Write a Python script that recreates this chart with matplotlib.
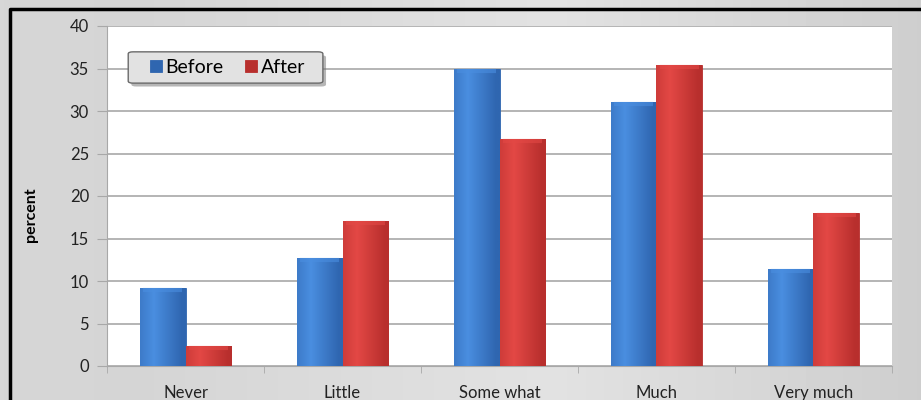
import numpy as np
import matplotlib
matplotlib.use("Agg")
import matplotlib.pyplot as plt
from matplotlib.lines import Line2D
from matplotlib.patches import FancyBboxPatch
from matplotlib.colors import LinearSegmentedColormap

plt.rcParams['font.family'] = ['Lato', 'DejaVu Sans']

# survey answers, percent of respondents
categories = ['Never', 'Little', 'Some what', 'Much', 'Very much']
before = [9.2, 12.7, 35.0, 31.1, 11.4]
after = [2.4, 17.1, 26.7, 35.4, 18.0]

fig = plt.figure(figsize=(9.21, 4.0), dpi=100)

# grey gradient behind everything, one value per pixel column
gx = np.linspace(0, 1, 921)
shade = 0.84 + 0.07 * np.clip(1 - np.abs(gx - 0.6) / 0.45, 0, 1) - 0.04 * gx
fig.figimage(np.tile(shade, (400, 1)), cmap='gray', vmin=0, vmax=1,
             xo=0, yo=0, zorder=-10)
# right margin strip again, above the plot, below the frame line
fig.figimage(np.tile(shade[895:], (389, 1)), cmap='gray', vmin=0, vmax=1,
             xo=895, yo=0, zorder=50)

# dark frame on the left and top edges, one polyline
fig.add_artist(Line2D([0.011, 0.011, 1.0], [0.0, 0.978, 0.978],
                      color='black', lw=2.5, zorder=60))

ax = fig.add_axes([0.1162, 0.085, 0.8523, 0.85])
ax.set_facecolor('white')

x = np.arange(len(categories))
w = 0.29


def shaded_bars(xs, vals, dark, light):
    bars = ax.bar(xs, vals, w, color=dark, edgecolor=dark, lw=0.6, zorder=3)
    # left-to-right shading on every bar
    g = np.linspace(0, 1, 64)
    prof = np.clip(1 - np.abs(g - 0.3) * 1.6, 0, 1)
    cm = LinearSegmentedColormap.from_list('s', [dark, light])
    for b in bars:
        x0, y0 = b.get_x(), b.get_y()
        im = ax.imshow(prof[None, :], cmap=cm, vmin=0, vmax=1, aspect='auto',
                       extent=[x0, x0 + b.get_width(), y0, y0 + b.get_height()],
                       zorder=4)
        im.set_clip_path(b)
        # lighter cap at the top
        ax.plot([x0 + 0.02, x0 + b.get_width() - 0.02],
                [y0 + b.get_height() - 0.25] * 2, color=light, lw=3,
                alpha=0.6, zorder=5, solid_capstyle='butt')
    return bars


hb = shaded_bars(x - w / 2, before, '#2f66b0', '#4a8ee0')
ha = shaded_bars(x + w / 2, after, '#b82f2d', '#e34845')

ax.set_xlim(-0.5, len(categories) - 0.5)
ax.set_ylim(0, 40)
ax.set_yticks(range(0, 41, 5))
ax.yaxis.grid(True, color='#a8a8a8', lw=1.2, zorder=0)
ax.set_axisbelow(True)

ax.set_xticks(x)
ax.set_xticklabels(categories, fontsize=12, color='#222222')
ax.tick_params(axis='x', which='major', length=0, pad=14)
ax.set_xticks(np.arange(-0.5, len(categories), 1.0), minor=True)
ax.tick_params(axis='x', which='minor', length=5, color='#a8a8a8')
ax.tick_params(axis='y', labelsize=12, length=7, color='#a8a8a8',
               labelcolor='#222222', pad=6)

for s in ['top', 'right']:
    ax.spines[s].set_visible(False)
ax.spines['left'].set_color('#a8a8a8')
ax.spines['bottom'].set_color('#a8a8a8')

ax.set_ylabel('percent', fontsize=11.5, fontweight='bold')
ax.yaxis.set_label_coords(-0.088, 0.444)

# legend box drawn by hand so it can be wider than its entries
box_kw = dict(boxstyle='round,pad=0,rounding_size=0.006',
              transform=ax.transAxes, clip_on=False)
ax.add_patch(FancyBboxPatch((0.031, 0.822), 0.248, 0.092, fc='#6f6f6f',
                            ec='none', alpha=0.5, zorder=8, **box_kw))
ax.add_patch(FancyBboxPatch((0.027, 0.832), 0.248, 0.092, fc='#e2e2e2',
                            ec='#6a6a6a', lw=1.0, zorder=9, **box_kw))
leg = ax.legend([hb, ha], ['Before', 'After'], loc='center left',
                bbox_to_anchor=(0.055, 0.878), ncol=2, fontsize=14,
                frameon=False, borderpad=0, borderaxespad=0,
                handlelength=0.6, handleheight=0.6, handletextpad=0.2,
                columnspacing=1.1)
leg.set_zorder(10)

fig.savefig('out.png', dpi=100)
